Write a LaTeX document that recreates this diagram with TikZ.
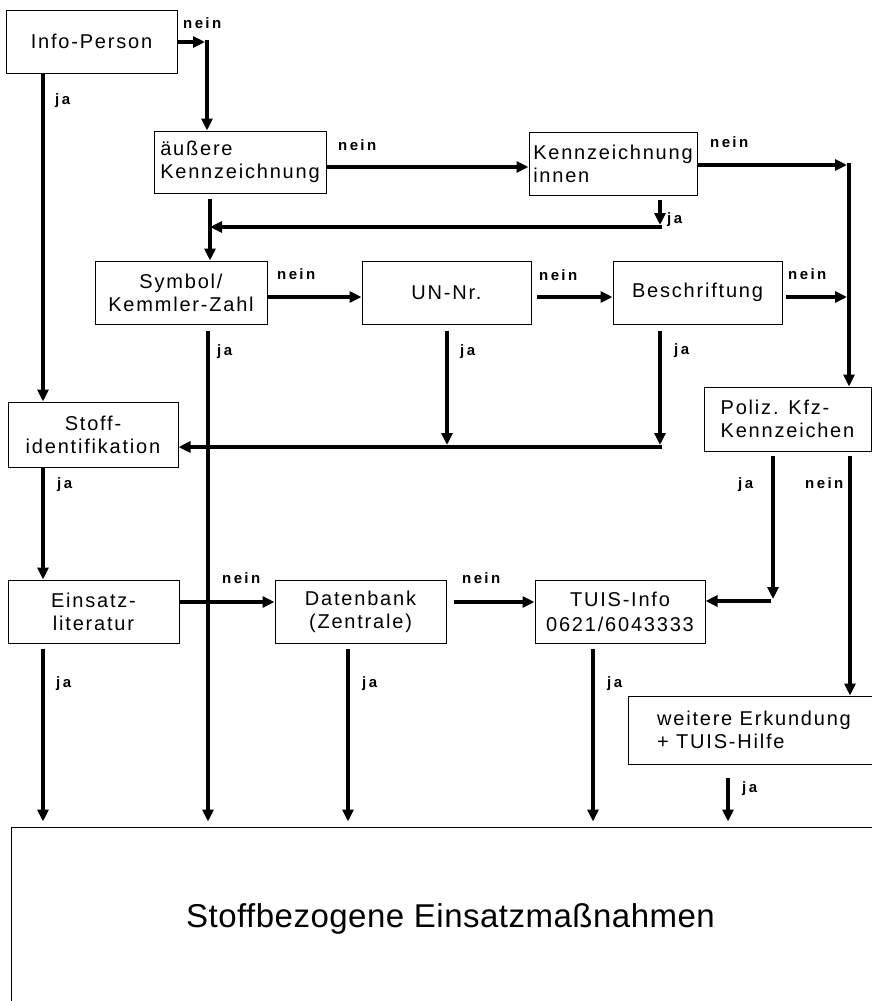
\documentclass[tikz,border=0pt]{standalone}
\usepackage{fontspec}
\setmainfont{Liberation Sans}
\newfontfamily\boxfont{Liberation Sans}[LetterSpace=9]
\newfontfamily\lblfont{Liberation Sans}[LetterSpace=16]
\newfontfamily\titlefont{Liberation Sans}[LetterSpace=1.5]
\usetikzlibrary{arrows.meta}

\tikzset{
  box/.style={draw, line width=1pt, inner sep=0pt,
    font=\boxfont\fontsize{20}{23}\selectfont},
  flow/.style={line width=4pt, -{Triangle[length=12pt,width=11pt]}},
  lbl/.style={font=\lblfont\bfseries\fontsize{15}{17}\selectfont,
    anchor=base west, inner sep=0pt},
}

\begin{document}
\begin{tikzpicture}[x=1pt,y=-1pt]
\path[use as bounding box] (0,0) rectangle (872,1001);
\clip (0,0) rectangle (872,1001);

% decision boxes
\node[box, minimum width=171pt, minimum height=63pt, align=center] (info) at (91.5,41.5) {Info-Person};
\node[box, minimum width=172pt, minimum height=62pt, align=left] (aeuss) at (240,162) {äußere\\Kennzeichnung};
\node[box, minimum width=168pt, minimum height=63pt, align=left] (innen) at (613,163.5) {Kennzeichnung\\innen};
\node[box, minimum width=172pt, minimum height=63pt, align=center] (symbol) at (181,292.5) {Symbol/\\Kemmler-Zahl};
\node[box, minimum width=169pt, minimum height=63pt, align=center] (un) at (446.5,292.5) {UN-Nr.};
\node[box, minimum width=169pt, minimum height=63pt, align=center] (besch) at (697.5,292.5) {Beschriftung};
\node[box, minimum width=167pt, minimum height=64pt, align=left] (poliz) at (787.5,419) {Poliz. Kfz-\\Kennzeichen};
\node[box, minimum width=170pt, minimum height=65pt, align=center] (stoff) at (93,434.5) {Stoff-\\identifikation};
\node[box, minimum width=171pt, minimum height=63pt, align=center] (einsatz) at (93.5,611.5) {Einsatz-\\literatur};
\node[box, minimum width=171pt, minimum height=63pt, align=center] (daten) at (360.5,611.5) {Datenbank\\(Zentrale)};
\node[box, minimum width=170pt, minimum height=63pt, align=center, font=\boxfont\fontsize{20}{25}\selectfont] (tuis) at (620,611.5) {TUIS-Info\\0621/6043333};
\node[box, minimum width=252pt, minimum height=68pt, align=left] (weitere) at (754,730) {weitere Erkundung\\+ TUIS-Hilfe};
\node[draw, line width=1pt, inner sep=0pt, minimum width=879pt, minimum height=183pt,
      font=\titlefont\fontsize{33}{38}\selectfont] (bottom) at (450.5,918.5) {Stoffbezogene Einsatzmaßnahmen};

% junction points of the connectors
\coordinate (xL) at (43,0);
\coordinate (c1) at (207,42);
\coordinate (yA) at (0,167);
\coordinate (r1) at (849,165);
\coordinate (r1h) at (847,165);
\coordinate (r1v) at (849,163);
\coordinate (j1) at (660,225);
\coordinate (j1h) at (662,227);
\coordinate (c2) at (210,227);
\coordinate (xS) at (208,0);
\coordinate (yB) at (0,297);
\coordinate (r2) at (847,297);
\coordinate (k1) at (447,445);
\coordinate (k2) at (660,445);
\coordinate (k3) at (662,447);
\coordinate (yC) at (0,447);
\coordinate (yD) at (0,602);
\coordinate (p1) at (773,599);
\coordinate (p1h) at (771,601);
\coordinate (xR) at (850,0);
\coordinate (xD) at (348,0);
\coordinate (xT) at (593,0);
\coordinate (xW) at (728,0);
\coordinate (w1) at (728,778);

% Info-Person
\draw[flow] (info.east |- c1) -- ([xshift=-2pt]c1);
\draw[flow] ([yshift=2pt]c1) -- (c1 |- aeuss.north);
\draw[flow] (xL |- info.south) -- (xL |- stoff.north);

% äußere / innere Kennzeichnung
\draw[flow] (aeuss.east |- yA) -- (innen.west |- yA);
\draw[flow] (innen.east |- r1h) -- (r1h);
\draw[flow] (r1v) -- (r1 |- poliz.north);
\draw[flow, shorten <=4pt] (j1 |- innen.south) -- (j1);
\draw[flow] (j1h) -- (c2);
\draw[flow, shorten <=5pt] (c2 |- aeuss.south) -- (c2 |- symbol.north);

% Symbol, UN-Nr., Beschriftung
\draw[flow] (symbol.east |- yB) -- (un.west |- yB);
\draw[flow, shorten <=5pt] (un.east |- yB) -- (besch.west |- yB);
\draw[flow, shorten <=3pt] (besch.east |- yB) -- (r2);
\draw[flow, shorten <=6pt, shorten >=5pt] (xS |- symbol.south) -- (xS |- bottom.north);
\draw[flow, shorten <=6pt] (k1 |- un.south) -- (k1);
\draw[flow, shorten <=6pt] (k2 |- besch.south) -- (k2);
\draw[flow] (k3) -- (stoff.east |- yC);

% Stoffidentifikation and sources
\draw[flow] (xL |- stoff.south) -- (xL |- einsatz.north);
\draw[flow] (einsatz.east |- yD) -- (daten.west |- yD);
\draw[flow, shorten <=7pt] (daten.east |- yD) -- (tuis.west |- yD);
\draw[flow, shorten <=4pt] (p1 |- poliz.south) -- (p1);
\draw[flow] (p1h) -- (tuis.east |- p1h);
\draw[flow, shorten <=4pt] (xR |- poliz.south) -- (xR |- weitere.north);

% into the measures box
\draw[flow, shorten <=5pt, shorten >=5pt] (xL |- einsatz.south) -- (xL |- bottom.north);
\draw[flow, shorten <=5pt, shorten >=5pt] (xD |- daten.south) -- (xD |- bottom.north);
\draw[flow, shorten <=5pt, shorten >=5pt] (xT |- tuis.south) -- (xT |- bottom.north);
\draw[flow, shorten >=5pt] (w1) -- (xW |- bottom.north);

% branch labels
\node[lbl] (n1) at (183,28) {nein};
\node[lbl] (a1) at (55,104) {ja};
\node[lbl] (n2) at (338,150) {nein};
\node[lbl] (n3) at (710,147) {nein};
\node[lbl] (a2) at (667,223) {ja};
\node[lbl] (n4) at (277,279) {nein};
\node[lbl] (n5) at (539,280) {nein};
\node[lbl] (n6) at (788,279) {nein};
\node[lbl] (a3) at (217,355) {ja};
\node[lbl] (a4) at (460,355) {ja};
\node[lbl] (a5) at (674,354) {ja};
\node[lbl] (a6) at (57,488) {ja};
\node[lbl] (n7) at (222,583) {nein};
\node[lbl] (n8) at (462,583) {nein};
\node[lbl] (a7) at (738,488) {ja};
\node[lbl] (n9) at (805,488) {nein};
\node[lbl] (a8) at (56,687) {ja};
\node[lbl] (a9) at (362,687) {ja};
\node[lbl] (a10) at (607,687) {ja};
\node[lbl] (a11) at (742,792) {ja};
\end{tikzpicture}
\end{document}
